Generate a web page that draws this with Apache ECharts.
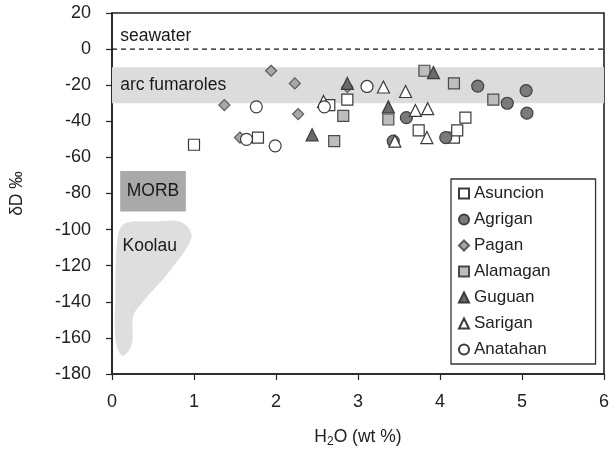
<!DOCTYPE html>
<html><head><meta charset="utf-8">
<script src="https://cdn.jsdelivr.net/npm/echarts@6/dist/echarts.min.js"></script>
<style>html,body{margin:0;padding:0;background:#fff}#c{width:609px;height:449px}</style>
</head><body><div id="c"></div>
<script>
var seriesNames = ['Asuncion','Agrigan','Pagan','Alamagan','Guguan','Sarigan','Anatahan'];
var asuncion = [[1.00,-53],[1.78,-49],[2.65,-31],[2.87,-28],[3.74,-45],[4.17,-49],[4.21,-45],[4.31,-38]];
var agrigan  = [[3.43,-51],[3.59,-38],[4.07,-49],[4.46,-20.5],[4.82,-30],[5.05,-23],[5.06,-35.5]];
var pagan    = [[1.37,-31],[1.56,-49],[1.94,-12],[2.23,-19],[2.27,-36],[2.87,-21]];
var alamagan = [[2.71,-51],[2.82,-37],[3.37,-39],[3.81,-12],[4.17,-19],[4.65,-28]];
var guguan   = [[2.44,-47.5],[2.87,-19],[3.37,-32],[3.92,-13]];
var sarigan  = [[2.58,-29],[3.31,-21],[3.45,-51],[3.58,-23.5],[3.70,-34],[3.85,-33],[3.84,-49]];
var anatahan = [[1.64,-50],[1.76,-32],[1.99,-53.6],[2.59,-32],[3.11,-20.7]];

var xTicks = [0,1,2,3,4,5,6];
var yTicks = [-180,-160,-140,-120,-100,-80,-60,-40,-20,0,20];

var seawaterY = 0;
var fumaroleBand = [-10,-30];
var morbBox = [[0.1,-67.5],[0.9,-90]];
var koolauOutline = [[0.16,-96.5],[0.5,-95.5],[0.85,-96],[0.97,-104],[0.72,-122],[0.36,-141],[0.26,-148],[0.24,-164],[0.13,-170],[0.05,-163],[0.04,-139],[0.07,-104]];
var regionLabels = [
  {text:'seawater', at:[0.1,7], align:'left'},
  {text:'arc fumaroles', at:[0.1,-20], align:'left'},
  {text:'MORB', at:[0.5,-78.5], align:'center'},
  {text:'Koolau', at:[0.46,-109], align:'center'}
];

var FONT = '"Liberation Sans", Arial, Helvetica, sans-serif';
var chart = echarts.init(document.getElementById('c'));

function bgRender(params, api){
  var xMin = xTicks[0], xMax = xTicks[xTicks.length-1];
  var b1 = api.coord([xMin, fumaroleBand[0]]), b2 = api.coord([xMax, fumaroleBand[1]]);
  var m1 = api.coord(morbBox[0]), m2 = api.coord(morbBox[1]);
  var kp = koolauOutline.map(function(p){return api.coord(p);});
  var s1 = api.coord([xMin, seawaterY]), s2 = api.coord([xMax, seawaterY]);
  var children = [
    {type:'rect', shape:{x:b1[0], y:b1[1], width:b2[0]-b1[0], height:b2[1]-b1[1]}, style:{fill:'#dcdcdc'}},
    {type:'rect', shape:{x:m1[0], y:m1[1], width:m2[0]-m1[0], height:m2[1]-m1[1]}, style:{fill:'#a9a9a9'}},
    {type:'polygon', shape:{points:kp, smooth:0.35}, style:{fill:'#dedede'}},
    {type:'line', shape:{x1:s1[0], y1:s1[1], x2:s2[0], y2:s2[1]}, style:{stroke:'#111', lineWidth:1.3, lineDash:[5,4]}}
  ];
  regionLabels.forEach(function(l){
    var p = api.coord(l.at);
    children.push({type:'text', x:p[0], y:p[1], style:{text:l.text, fill:'#1a1a1a', font:'17.5px '+FONT, align:l.align, verticalAlign:'middle'}});
  });
  return {type:'group', children:children};
}

var styles = {
  Asuncion:{symbol:'rect', size:11, fill:'#ffffff', stroke:'#3a3a3a'},
  Agrigan:{symbol:'circle', size:12, fill:'#7a7a7a', stroke:'#3f3f3f'},
  Pagan:{symbol:'diamond', size:11, fill:'#a8a8a8', stroke:'#5a5a5a'},
  Alamagan:{symbol:'rect', size:11, fill:'#bdbdbd', stroke:'#4a4a4a'},
  Guguan:{symbol:'triangle', size:12, fill:'#6a6a6a', stroke:'#3a3a3a'},
  Sarigan:{symbol:'triangle', size:12, fill:'#ffffff', stroke:'#3a3a3a'},
  Anatahan:{symbol:'circle', size:12, fill:'#ffffff', stroke:'#3a3a3a'}
};
var dataMap = {Asuncion:asuncion, Agrigan:agrigan, Pagan:pagan, Alamagan:alamagan, Guguan:guguan, Sarigan:sarigan, Anatahan:anatahan};

var series = [{type:'custom', silent:true, z:1, renderItem:bgRender, data:[[0,0]], legendHoverLink:false}];
seriesNames.forEach(function(n){
  var s = styles[n];
  series.push({name:n, type:'scatter', z:5, symbol:s.symbol, symbolSize:s.size, data:dataMap[n],
    itemStyle:{color:s.fill, borderColor:s.stroke, borderWidth:1.2, opacity:1}});
});

chart.setOption({
  animation:false,
  backgroundColor:'#fff',
  grid:{left:112, right:5, top:13, bottom:75, outerBoundsMode:'none', containLabel:false, show:true, borderColor:'#222', borderWidth:1.6, backgroundColor:'transparent'},
  xAxis:{type:'value', min:xTicks[0], max:xTicks[xTicks.length-1], interval:1,
    axisLine:{onZero:false, lineStyle:{color:'#222', width:1.6}},
    axisTick:{show:true, length:6, lineStyle:{color:'#222', width:1.2}},
    axisLabel:{color:'#222', fontSize:18, fontFamily:FONT, margin:19},
    splitLine:{show:false},
    name:'{n|H}{s|2}{n|O (wt %)}', nameLocation:'middle', nameGap:53,
    nameTextStyle:{rich:{n:{fontSize:17.5, fontFamily:FONT, color:'#222'}, s:{fontSize:12, fontFamily:FONT, color:'#222', padding:[9,0,0,0]}}}
  },
  yAxis:{type:'value', min:yTicks[0], max:yTicks[yTicks.length-1], interval:20,
    axisLine:{onZero:false, lineStyle:{color:'#222', width:1.6}},
    axisTick:{show:true, length:6, lineStyle:{color:'#222', width:1.2}},
    axisLabel:{color:'#222', fontSize:18, fontFamily:FONT, margin:21},
    splitLine:{show:false},
    name:'δD ‰', nameLocation:'middle', nameGap:86, nameRotate:90,
    nameTextStyle:{fontSize:17.5, fontFamily:FONT, color:'#222'}
  },
  legend:{data:seriesNames, orient:'vertical', left:451, top:179,
    itemWidth:10, itemHeight:10, itemGap:9, itemTextGap:5, padding:[6,45,6,7],
    backgroundColor:'#fff', borderColor:'#333', borderWidth:1.3,
    textStyle:{fontSize:17, fontFamily:FONT, color:'#222'}},
  series:series
});
</script></body></html>
